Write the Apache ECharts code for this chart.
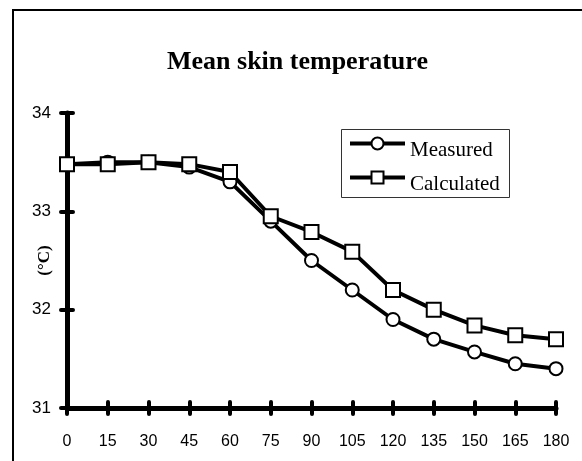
<!DOCTYPE html>
<html>
<head>
<meta charset="utf-8">
<style>
  html, body { margin: 0; padding: 0; background: #fff; }
  #chart { width: 582px; height: 461px; }
</style>
<script src="https://cdn.jsdelivr.net/npm/echarts@6/dist/echarts.min.js"></script>
</head>
<body>
<div id="chart"></div>
<script>
// minutes
var minutes = [0, 15, 30, 45, 60, 75, 90, 105, 120, 135, 150, 165, 180]
// mean skin temperature (°C)
var measured = [33.48, 33.5, 33.5, 33.45, 33.3, 32.9, 32.5, 32.2, 31.9, 31.7, 31.57, 31.45, 31.4]
var calculated = [33.48, 33.48, 33.5, 33.48, 33.4, 32.95, 32.79, 32.59, 32.2, 32.0, 31.84, 31.74, 31.7]
var yTicks = [31, 32, 33, 34]

var serif = '"Liberation Serif", "Times New Roman", serif'
var sans = '"Liberation Sans", Arial, sans-serif'

function pairs(vals) {
  return minutes.map(function (m, i) { return [m, vals[i]] })
}

var chart = echarts.init(document.getElementById('chart'))

// shared axis bits
var axisLine = { show: true, onZero: false, lineStyle: { color: '#000', width: 5 } }
var tickStyle = { color: '#000', width: 4, cap: 'round' }

chart.setOption({
  animation: false,
  backgroundColor: '#fff',
  title: {
    text: 'Mean skin temperature',
    left: 167,
    top: 49,
    padding: 0,
    textStyle: { fontFamily: serif, fontWeight: 'bold', fontSize: 26, color: '#000' }
  },
  legend: {
    orient: 'vertical',
    left: 348,
    top: 126,
    padding: 0,
    itemWidth: 55,
    itemHeight: 15,
    itemGap: -1,
    selectedMode: false,
    lineStyle: { width: 4 },
    itemStyle: { borderWidth: 2 },
    // text sits a little below the line, as in the original
    formatter: '{t|{name}}',
    textStyle: {
      fontFamily: serif, fontSize: 21, color: '#000',
      rich: { t: { fontFamily: serif, fontSize: 21, lineHeight: 21, color: '#000', padding: [14, 0, 0, 0] } }
    },
    data: ['Measured', 'Calculated']
  },
  grid: { left: 67, right: 26, top: 113, bottom: 53, outerBoundsMode: 'none' },
  xAxis: [{
    type: 'value',
    min: 0, max: 180, interval: 15,
    axisLine: axisLine,
    axisTick: { show: true, length: 6, lineStyle: tickStyle },
    axisLabel: { fontFamily: sans, fontSize: 16, color: '#000', margin: 26 },
    splitLine: { show: false }
  }, {
    type: 'value', position: 'bottom',
    min: 0, max: 180, interval: 15,
    axisLine: { show: false },
    axisTick: { show: true, inside: true, length: 6, lineStyle: tickStyle },
    axisLabel: { show: false },
    splitLine: { show: false }
  }],
  yAxis: [{
    type: 'value',
    min: yTicks[0], max: yTicks[yTicks.length - 1], interval: 1,
    name: '(°C)',
    nameLocation: 'middle',
    nameRotate: 90,
    nameGap: 14,
    nameMoveOverlap: false,
    nameTextStyle: { fontFamily: serif, fontWeight: 'bold', fontSize: 17, color: '#000' },
    axisLine: axisLine,
    axisTick: { show: true, length: 6, lineStyle: tickStyle },
    axisLabel: { fontFamily: sans, fontSize: 17, color: '#000', margin: 16 },
    splitLine: { show: false }
  }, {
    type: 'value', position: 'left',
    min: yTicks[0], max: yTicks[yTicks.length - 1], interval: 1,
    axisLine: { show: false },
    axisTick: { show: true, inside: true, length: 6, lineStyle: tickStyle },
    axisLabel: { show: false },
    splitLine: { show: false }
  }],
  series: [{
    name: 'Measured',
    type: 'line',
    data: pairs(measured),
    symbol: 'circle',
    symbolSize: 13,
    lineStyle: { color: '#000', width: 4 },
    itemStyle: { color: '#fff', borderColor: '#000', borderWidth: 2 },
    emphasis: { disabled: true }
  }, {
    name: 'Calculated',
    type: 'line',
    data: pairs(calculated),
    symbol: 'rect',
    symbolSize: 14,
    lineStyle: { color: '#000', width: 4 },
    itemStyle: { color: '#fff', borderColor: '#000', borderWidth: 2 },
    emphasis: { disabled: true }
  }],
  graphic: [{
    // outer frame, runs off the right and bottom edges
    type: 'rect',
    shape: { x: 13, y: 10, width: 700, height: 600 },
    style: { fill: null, stroke: '#000', lineWidth: 2 },
    silent: true
  }, {
    // legend box
    type: 'rect',
    shape: { x: 341.5, y: 129.5, width: 168, height: 68 },
    style: { fill: null, stroke: '#333', lineWidth: 1 },
    silent: true
  }]
})
</script>
</body>
</html>
